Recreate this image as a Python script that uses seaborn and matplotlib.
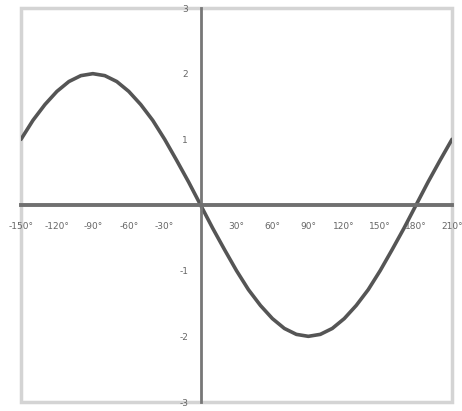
import matplotlib
matplotlib.use("Agg")
import matplotlib.pyplot as plt
import matplotlib.patches as mpatches
import pandas as pd
import seaborn as sns

# values (degrees -> y)
x_deg = [-150, -140, -130, -120, -110, -100, -90, -80, -70, -60, -50, -40, -30, -20, -10,
         0, 10, 20, 30, 40, 50, 60, 70, 80, 90, 100, 110, 120, 130, 140, 150, 160, 170,
         180, 190, 200, 210]
y_val = [1.00, 1.29, 1.53, 1.73, 1.88, 1.97, 2.00, 1.97, 1.88, 1.73, 1.53, 1.29, 1.00, 0.68, 0.35,
         0.00, -0.35, -0.68, -1.00, -1.29, -1.53, -1.73, -1.88, -1.97, -2.00, -1.97, -1.88, -1.73,
         -1.53, -1.29, -1.00, -0.68, -0.35, 0.00, 0.35, 0.68, 1.00]

x_ticks = [-150, -120, -90, -60, -30, 30, 60, 90, 120, 150, 180, 210]
y_ticks = [-3, -2, -1, 1, 2, 3]

df = pd.DataFrame({"x": x_deg, "y": y_val})

sns.set_style("white")
plt.rcParams['font.family'] = ['DejaVu Sans']

fig = plt.figure(figsize=(4.62, 4.11), dpi=100)
ax = fig.add_axes([21 / 462, 9 / 411, 431 / 462, 394 / 411])

sns.lineplot(data=df, x="x", y="y", ax=ax, color="#555555", linewidth=2.6)

ax.set_xlim(-150, 210)
ax.set_ylim(-3, 3)

# axes through the origin
for s in ["top", "right"]:
    ax.spines[s].set_visible(False)
ax.spines["left"].set_position(("data", 0))
ax.spines["bottom"].set_position(("data", 0))
ax.spines["left"].set_color("#777777")
ax.spines["bottom"].set_color("#707070")
ax.spines["left"].set_linewidth(2)
ax.spines["bottom"].set_linewidth(2.8)

# light outer frame
ax.add_patch(mpatches.Rectangle((0, 0), 1, 1, transform=ax.transAxes, fill=False,
                                edgecolor="#d4d4d4", linewidth=2.5, clip_on=False, zorder=0))

ax.set_xticks(x_ticks)
ax.set_xticklabels([f"{t}°" for t in x_ticks])
ax.set_yticks(y_ticks)
ax.set_yticklabels([str(t) for t in y_ticks])
ax.tick_params(axis="both", labelsize=6.5, colors="#666666", length=3, width=1,
               direction="out")
ax.tick_params(axis="y", pad=6)
ax.tick_params(axis="x", pad=9)
ax.set_xlabel("")
ax.set_ylabel("")

plt.savefig("out.png", dpi=100)
